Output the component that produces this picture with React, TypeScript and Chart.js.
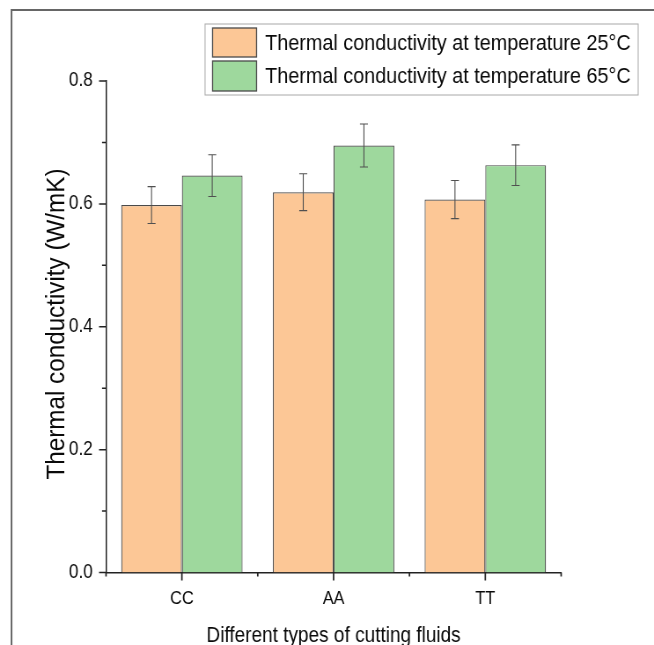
import { useEffect, useRef } from 'react';
import { Chart, registerables } from 'chart.js';

Chart.register(...registerables);

// ---- data ----
const categories = ['CC', 'AA', 'TT'];
const seriesNames = [
  'Thermal conductivity at temperature 25°C',
  'Thermal conductivity at temperature 65°C',
];
const values25 = [0.598, 0.619, 0.607];
const values65 = [0.646, 0.695, 0.663];
const errors25 = [0.030, 0.030, 0.031];
const errors65 = [0.034, 0.035, 0.033];
const yMajorTicks = [0, 0.2, 0.4, 0.6, 0.8];
const yMinorTicks = [0.1, 0.3, 0.5, 0.7];
const xTitle = 'Different types of cutting fluids';
const yTitle = 'Thermal conductivity (W/mK)';

// ---- styling / layout ----
const SQUASH = 0.88;
const DISPLAY_W = 654;
const DISPLAY_H = 645;
const CANVAS_W = Math.round(DISPLAY_W / SQUASH);
const CANVAS_H = DISPLAY_H;
const sx = (x: number) => x / SQUASH;
const FONT = '"Liberation Sans", Arial, sans-serif';
const TEXT = '#0a0a0a';
const ORANGE = '#FCC796';
const GREEN = '#9ED89D';
const BAR_BORDER = '#4a4a4a';
const AXIS = '#222222';
const PLOT_LEFT = 106;
const PLOT_RIGHT = 561;
const PLOT_TOP = 81;
const PLOT_BOTTOM = 572.5;

const framePlugin = {
  id: 'frame',
  beforeDraw(chart: any) {
    const ctx = chart.ctx;
    ctx.save();
    ctx.fillStyle = '#ffffff';
    ctx.fillRect(0, 0, chart.width, chart.height);
    ctx.strokeStyle = '#666666';
    ctx.lineWidth = 2;
    ctx.beginPath();
    ctx.moveTo(sx(11.5), chart.height + 5);
    ctx.lineTo(sx(11.5), 10);
    ctx.lineTo(chart.width + 5, 10);
    ctx.stroke();
    ctx.restore();
  },
};

const yTitlePlugin = {
  id: 'yTitle',
  afterDraw(chart: any) {
    const ctx = chart.ctx;
    ctx.save();
    ctx.translate(sx(64), 324);
    ctx.rotate(-Math.PI / 2);
    ctx.scale(0.95, 1 / SQUASH);
    ctx.font = `25.5px ${FONT}`;
    ctx.fillStyle = TEXT;
    ctx.textAlign = 'center';
    ctx.textBaseline = 'alphabetic';
    ctx.fillText(yTitle, 0, 0);
    ctx.restore();
  },
};

const ticksPlugin = {
  id: 'customTicks',
  afterDraw(chart: any) {
    const ctx = chart.ctx;
    const y = chart.scales.y;
    const x = chart.scales.x;
    const left = chart.chartArea.left;
    const bottom = chart.chartArea.bottom;
    ctx.save();
    ctx.strokeStyle = AXIS;
    ctx.lineWidth = 1.5;
    ctx.beginPath();
    yMajorTicks.forEach((v) => {
      const py = y.getPixelForValue(v);
      ctx.moveTo(left, py);
      ctx.lineTo(left - sx(7), py);
    });
    yMinorTicks.forEach((v) => {
      const py = y.getPixelForValue(v);
      ctx.moveTo(left, py);
      ctx.lineTo(left - sx(4), py);
    });
    ctx.stroke();
    ctx.lineWidth = 1.7;
    ctx.beginPath();
    categories.forEach((_, i) => {
      const px = x.getPixelForValue(i);
      ctx.moveTo(px, bottom);
      ctx.lineTo(px, bottom + 8);
    });
    for (let i = 0; i <= categories.length; i++) {
      const px = x.getPixelForValue(i - 0.5);
      ctx.moveTo(px, bottom);
      ctx.lineTo(px, bottom + 4);
    }
    ctx.stroke();
    ctx.restore();
  },
};

const errorBarPlugin = {
  id: 'errorBars',
  afterDatasetsDraw(chart: any) {
    const ctx = chart.ctx;
    const y = chart.scales.y;
    const errs = [errors25, errors65];
    ctx.save();
    ctx.strokeStyle = '#505050';
    ctx.lineWidth = 1.1;
    chart.data.datasets.forEach((ds: any, d: number) => {
      const meta = chart.getDatasetMeta(d);
      meta.data.forEach((bar: any, i: number) => {
        const v = ds.data[i];
        const e = errs[d][i];
        const yHi = y.getPixelForValue(v + e);
        const yLo = y.getPixelForValue(v - e);
        const cx = bar.x;
        const cap = sx(4);
        ctx.beginPath();
        ctx.moveTo(cx, yHi);
        ctx.lineTo(cx, yLo);
        ctx.moveTo(cx - cap, yHi);
        ctx.lineTo(cx + cap, yHi);
        ctx.moveTo(cx - cap, yLo);
        ctx.lineTo(cx + cap, yLo);
        ctx.stroke();
      });
    });
    ctx.restore();
  },
};

const legendPlugin = {
  id: 'boxLegend',
  afterDraw(chart: any) {
    const ctx = chart.ctx;
    ctx.save();
    const bx = sx(205);
    const by = 24;
    const bw = sx(638) - sx(205);
    const bh = 71;
    ctx.fillStyle = '#ffffff';
    ctx.fillRect(bx, by, bw, bh);
    ctx.strokeStyle = '#a8a8a8';
    ctx.lineWidth = 1;
    ctx.strokeRect(bx, by, bw, bh);
    const colors = [ORANGE, GREEN];
    const rows = [{ top: 28, h: 29 }, { top: 61, h: 30 }];
    ctx.font = `22.5px ${FONT}`;
    ctx.textBaseline = 'middle';
    ctx.textAlign = 'left';
    seriesNames.forEach((name, i) => {
      const r = rows[i];
      ctx.fillStyle = colors[i];
      ctx.fillRect(sx(212.5), r.top, sx(44), r.h);
      ctx.strokeStyle = BAR_BORDER;
      ctx.lineWidth = 1.3;
      ctx.strokeRect(sx(212.5), r.top, sx(44), r.h);
      ctx.fillStyle = TEXT;
      ctx.fillText(name, sx(265), r.top + r.h / 2 + 1);
    });
    ctx.restore();
  },
};

export default function App() {
  const canvasRef = useRef<HTMLCanvasElement | null>(null);

  useEffect(() => {
    const canvas = canvasRef.current;
    if (!canvas) return;
    const chart = new Chart(canvas, {
      type: 'bar',
      data: {
        labels: categories,
        datasets: [
          {
            label: seriesNames[0],
            data: values25,
            backgroundColor: ORANGE,
            borderColor: BAR_BORDER,
            borderWidth: 1.2,
            categoryPercentage: 0.8,
            barPercentage: 1.0,
          },
          {
            label: seriesNames[1],
            data: values65,
            backgroundColor: GREEN,
            borderColor: BAR_BORDER,
            borderWidth: 1.2,
            categoryPercentage: 0.8,
            barPercentage: 1.0,
          },
        ],
      },
      options: {
        responsive: false,
        animation: false,
        devicePixelRatio: 1,
        layout: {
          padding: { left: 0, top: PLOT_TOP, right: CANVAS_W - sx(PLOT_RIGHT), bottom: 0 },
        },
        plugins: {
          legend: { display: false },
          tooltip: { enabled: false },
        },
        scales: {
          x: {
            offset: true,
            grid: { display: false, drawTicks: false },
            border: { display: true, color: AXIS, width: 1.5 },
            ticks: {
              padding: 15,
              color: TEXT,
              font: { family: FONT, size: 18.5 },
            },
            title: {
              display: true,
              text: xTitle,
              color: TEXT,
              font: { family: FONT, size: 21.6, lineHeight: 0.8 },
              padding: { top: 0, bottom: 0 },
            },
            afterFit: (s: any) => {
              s.height = CANVAS_H - PLOT_BOTTOM;
            },
          },
          y: {
            min: 0,
            max: 0.8,
            grid: { display: false, drawTicks: false },
            border: { display: true, color: AXIS, width: 1.5 },
            ticks: {
              stepSize: 0.2,
              padding: 15,
              color: TEXT,
              font: { family: FONT, size: 19.5 },
              callback: (v: any) => Number(v).toFixed(1),
            },
            title: { display: false, text: yTitle },
            afterFit: (s: any) => {
              s.width = sx(PLOT_LEFT);
            },
          },
        },
      },
      plugins: [framePlugin, errorBarPlugin, ticksPlugin, legendPlugin, yTitlePlugin],
    });
    return () => chart.destroy();
  }, []);

  return (
    <div
      style={{
        position: 'absolute',
        left: 0,
        top: 0,
        width: DISPLAY_W,
        height: DISPLAY_H,
        overflow: 'hidden',
        background: '#fff',
      }}
    >
      <canvas
        ref={canvasRef}
        width={CANVAS_W}
        height={CANVAS_H}
        style={{ width: `${DISPLAY_W}px`, height: `${DISPLAY_H}px`, display: 'block' }}
      />
    </div>
  );
}
